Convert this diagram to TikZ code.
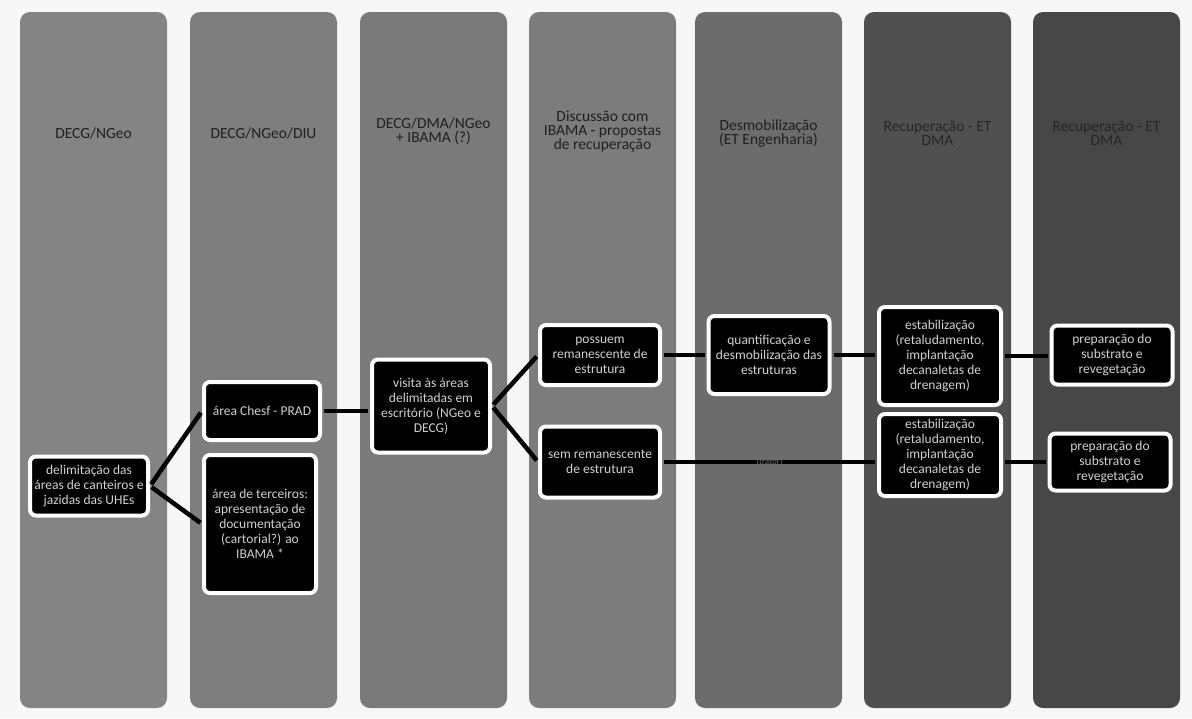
\documentclass[tikz,border=0pt]{standalone}
\usepackage{fontspec}
\setmainfont{Carlito}
\usetikzlibrary{calc}

\definecolor{laneA}{HTML}{848484}
\definecolor{laneB}{HTML}{7E7E7E}
\definecolor{laneC}{HTML}{7A7A7A}
\definecolor{laneD}{HTML}{7C7C7C}
\definecolor{laneE}{HTML}{6C6C6C}
\definecolor{laneF}{HTML}{505050}
\definecolor{laneG}{HTML}{474747}

\begin{document}
\begin{tikzpicture}[x=1pt, y=-1pt,
  lane/.style={rounded corners=10pt},
  hd/.style={font=\fontsize{15.5}{14}\selectfont, text=black!88, align=center},
  bx/.style={draw=white, line width=4pt, fill=black, rounded corners=6pt,
             text=black!18, align=center, inner sep=2pt,
             font=\fontsize{13.5}{15}\selectfont},
  ln/.style={line width=4.5pt, shorten <=2pt, shorten >=2pt}
]
  \fill[gray!6] (0,0) rectangle (1192,718);
  \useasboundingbox (0,0) rectangle (1192,718);

  % lanes
  \fill[lane, laneA] (20,12)   rectangle (167,708);
  \fill[lane, laneB] (190,12)  rectangle (337,708);
  \fill[lane, laneC] (360,12)  rectangle (507,708);
  \fill[lane, laneD] (529,12)  rectangle (676,708);
  \fill[lane, laneE] (695,12)  rectangle (842,708);
  \fill[lane, laneF] (864,12)  rectangle (1011,708);
  \fill[lane, laneG] (1033,12) rectangle (1180,708);

  % headers
  \node[hd] (h1) at (93.5,133)   {DECG/NGeo};
  \node[hd] (h2) at (263.5,133)  {DECG/NGeo/DIU};
  \node[hd] (h3) at (433.5,131)  {DECG/DMA/NGeo\\+ IBAMA (?)};
  \node[hd] (h4) at (602.5,131)  {Discussão com\\IBAMA - propostas\\de recuperação};
  \node[hd] (h5) at (768.5,133)  {Desmobilização\\(ET Engenharia)};
  \node[hd, text=black!85] (h6) at (937.5,133)  {Recuperação - ET\\DMA};
  \node[hd, text=black!85] (h7) at (1106.5,133) {Recuperação - ET\\DMA};

  % steps
  \node[bx, minimum width=118pt, minimum height=59pt] (delim) at (89,486)
    {delimitação das\\áreas de canteiros e\\jazidas das UHEs};
  \node[bx, minimum width=116pt, minimum height=58pt] (chesf) at (262,411)
    {área Chesf - PRAD};
  \node[bx, minimum width=112pt, minimum height=138pt] (terc) at (260,524)
    {área de terceiros:\\apresentação de\\documentação\\(cartorial?) ao\\IBAMA *};
  \node[bx, minimum width=118pt, minimum height=93pt] (visita) at (431,406)
    {visita às áreas\\delimitadas em\\escritório (NGeo e\\DECG)};
  \node[bx, minimum width=120pt, minimum height=60pt] (poss) at (600,355)
    {possuem\\remanescente de\\estrutura};
  \node[bx, minimum width=120pt, minimum height=71pt] (sem) at (600,462)
    {sem remanescente\\de estrutura};
  \node[bx, minimum width=121pt, minimum height=78pt] (quant) at (769,355)
    {quantificação e\\desmobilização das\\estruturas};
  \node[bx, minimum width=122pt, minimum height=98pt] (estA) at (940,356)
    {estabilização\\(retaludamento,\\implantação\\decanaletas de\\drenagem)};
  \node[bx, minimum width=122pt, minimum height=82pt] (estB) at (940,455)
    {estabilização\\(retaludamento,\\implantação\\decanaletas de\\drenagem)};
  \node[bx, minimum width=121pt, minimum height=59pt] (prepA) at (1112,355)
    {preparação do\\substrato e\\revegetação};
  \node[bx, minimum width=121pt, minimum height=57pt] (prepB) at (1110,462)
    {preparação do\\substrato e\\revegetação};

  % links
  \draw[ln] (delim.east) -- (chesf.west);
  \draw[ln] (delim.east) -- (terc.west);
  \draw[ln] (chesf.east) -- (chesf.east -| visita.west);
  \draw[ln] (visita.east) -- (poss.west);
  \draw[ln] (visita.east) -- (sem.west);
  \draw[ln] (poss.east) -- (poss.east -| quant.west);
  \draw[ln] (quant.east) -- (quant.east -| estA.west);
  \draw[ln] (sem.east) -- (sem.east -| estB.west)
    node[midway, font=\fontsize{9}{9}\selectfont, text=black!55, inner sep=0pt] (trat) {(trator)};
  \draw[ln] (estA.east) -- (estA.east -| prepA.west);
  \draw[ln] (prepB.west -| estB.east) -- (prepB.west);
\end{tikzpicture}
\end{document}
